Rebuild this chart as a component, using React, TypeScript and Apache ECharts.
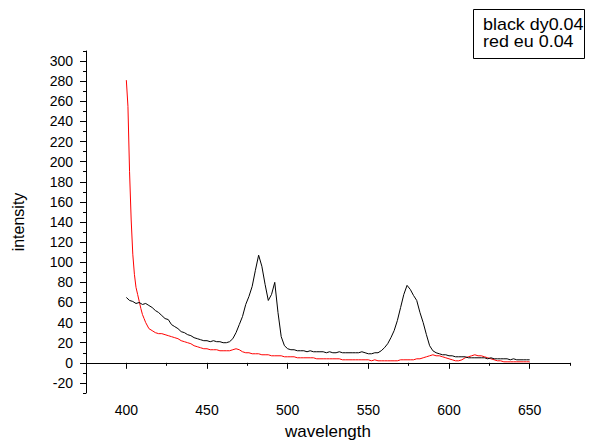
import React, { useEffect, useRef } from "react";
import * as echarts from "echarts";

// Black series (dy 0.04): wavelengths every 2 nm from 400 to 650
const blackWavelengths: number[] = Array.from({ length: 126 }, (_, i) => 400 + 2 * i);
const blackIntensity: number[] = [
  65, 62, 61, 59, 60, 58, 59, 57, 55, 52,
  50, 47, 44, 43, 38, 36, 34, 31, 30, 28,
  27, 25, 24, 23, 22, 22, 21, 22, 21, 21,
  20, 20, 21, 24, 30, 38, 46, 58, 66, 76,
  92, 107, 96, 78, 62, 68, 80, 50, 26, 17,
  14, 13, 13, 12, 12, 12, 11, 12, 11, 11,
  11, 11, 10, 11, 10, 10, 11, 10, 10, 10,
  10, 10, 10, 11, 10, 9, 9, 10, 10, 12,
  15, 19, 25, 32, 42, 55, 68, 77, 73, 67,
  62, 50, 40, 28, 17, 12, 10, 9, 8, 8,
  7, 7, 6, 6, 6, 6, 5, 5, 5, 5,
  5, 5, 4, 5, 4, 4, 4, 4, 4, 3,
  4, 3, 3, 3, 3, 3,
];

// Red series (eu 0.04): 1 nm steps 400-412, then 2 nm steps to 650
const redWavelengths: number[] = [
  400, 401, 402, 403, 404, 405, 406, 407, 408, 409, 410, 411, 412,
  ...Array.from({ length: 119 }, (_, i) => 414 + 2 * i),
];
const redIntensity: number[] = [
  281, 255, 190, 142, 108, 88, 75, 68, 61, 54, 48, 44, 40,
  34, 32, 30, 29, 29, 28, 27, 26, 25, 24,
  22, 21, 20, 19, 17, 16, 15, 14, 14, 13,
  13, 13, 12, 12, 12, 12, 13, 14, 13, 11,
  10, 10, 9, 9, 9, 8, 8, 8, 7, 7,
  7, 7, 6, 6, 6, 6, 5, 5, 5, 5,
  5, 5, 4, 4, 4, 4, 4, 4, 4, 4,
  3, 3, 3, 3, 3, 3, 3, 3, 3, 2,
  3, 2, 2, 2, 2, 2, 2, 2, 3, 3,
  3, 3, 3, 4, 4, 5, 6, 7, 8, 7,
  7, 6, 5, 4, 3, 2, 2, 3, 5, 6,
  7, 8, 7, 7, 6, 5, 4, 3, 2, 2,
  1, 1, 1, 1, 1, 1, 1, 1, 1,
];

const xMajorTicks: number[] = [400, 450, 500, 550, 600, 650];
const xMinorTicks: number[] = [375, 425, 475, 525, 575, 625, 675];
const yMajorTicks: number[] = [-20, 0, 20, 40, 60, 80, 100, 120, 140, 160, 180, 200, 220, 240, 260, 280, 300];
const yMinorTicks: number[] = [-30, -10, 10, 30, 50, 70, 90, 110, 130, 150, 170, 190, 210, 230, 250, 270, 290, 310];

const legendLines: string[] = ["black dy0.04", "red eu 0.04"];

const FONT = "'Liberation Sans', Arial, sans-serif";

export default function App() {
  const ref = useRef<HTMLDivElement>(null);

  useEffect(() => {
    if (!ref.current) return;
    const chart = echarts.init(ref.current, null, { renderer: "svg" });
    const axisLineStyle = { color: "#000", width: 1 };
    const option: any = {
      animation: false,
      backgroundColor: "#fff",
      grid: { left: 86, right: 22, top: 51, bottom: 49, containLabel: false },
      xAxis: [
        {
          type: "value",
          min: 375,
          max: 675,
          position: "bottom",
          name: "wavelength",
          nameLocation: "middle",
          nameGap: 30,
          nameTextStyle: { color: "#000", fontSize: 17, fontFamily: FONT },
          axisLine: { show: true, lineStyle: axisLineStyle },
          axisTick: { show: true, customValues: xMajorTicks, length: 6, lineStyle: axisLineStyle },
          axisLabel: { show: true, customValues: xMajorTicks, margin: 10, color: "#000", fontSize: 14, fontFamily: FONT },
          splitLine: { show: false },
        },
        {
          type: "value",
          min: 375,
          max: 675,
          position: "bottom",
          axisLine: { show: false },
          axisTick: { show: true, customValues: xMinorTicks, length: 3, lineStyle: axisLineStyle },
          axisLabel: { show: false },
          splitLine: { show: false },
        },
      ],
      yAxis: [
        {
          type: "value",
          min: -30,
          max: 310,
          position: "left",
          name: "intensity",
          nameLocation: "middle",
          nameGap: 60,
          nameTextStyle: { color: "#000", fontSize: 16, fontFamily: FONT },
          axisLine: { show: true, lineStyle: axisLineStyle },
          axisTick: { show: true, customValues: yMajorTicks, length: 6, lineStyle: axisLineStyle },
          axisLabel: { show: true, customValues: yMajorTicks, margin: 13, color: "#000", fontSize: 14, fontFamily: FONT },
          splitLine: { show: false },
        },
        {
          type: "value",
          min: -30,
          max: 310,
          position: "left",
          axisLine: { show: false },
          axisTick: { show: true, customValues: yMinorTicks, length: 3, lineStyle: axisLineStyle },
          axisLabel: { show: false },
          splitLine: { show: false },
        },
      ],
      series: [
        {
          name: legendLines[0],
          type: "line",
          xAxisIndex: 0,
          yAxisIndex: 0,
          data: blackWavelengths.map((w, i) => [w, blackIntensity[i]]),
          showSymbol: false,
          symbol: "none",
          lineStyle: { color: "#000", width: 1 },
          itemStyle: { color: "#000" },
          z: 3,
        },
        {
          name: legendLines[1],
          type: "line",
          xAxisIndex: 0,
          yAxisIndex: 0,
          data: redWavelengths.map((w, i) => [w, redIntensity[i]]),
          showSymbol: false,
          symbol: "none",
          lineStyle: { color: "#ff0000", width: 1 },
          itemStyle: { color: "#ff0000" },
          z: 2,
        },
      ],
      graphic: [
        {
          type: "group",
          left: 473,
          top: 9,
          children: [
            {
              type: "rect",
              shape: { x: 0.5, y: 0.5, width: 111, height: 49 },
              style: { fill: "#fff", stroke: "#000", lineWidth: 1 },
            },
            {
              type: "text",
              x: 10,
              y: 16,
              scaleX: 1.12,
              style: { text: legendLines[0], fill: "#000", fontSize: 16, fontFamily: FONT, verticalAlign: "middle" },
            },
            {
              type: "text",
              x: 10,
              y: 33,
              scaleX: 1.12,
              style: { text: legendLines[1], fill: "#000", fontSize: 16, fontFamily: FONT, verticalAlign: "middle" },
            },
          ],
        },
      ],
    };
    chart.setOption(option);
    return () => chart.dispose();
  }, []);

  return (
    <div
      ref={ref}
      style={{ position: "fixed", left: 0, top: 0, width: 592, height: 445, background: "#fff" }}
    />
  );
}
